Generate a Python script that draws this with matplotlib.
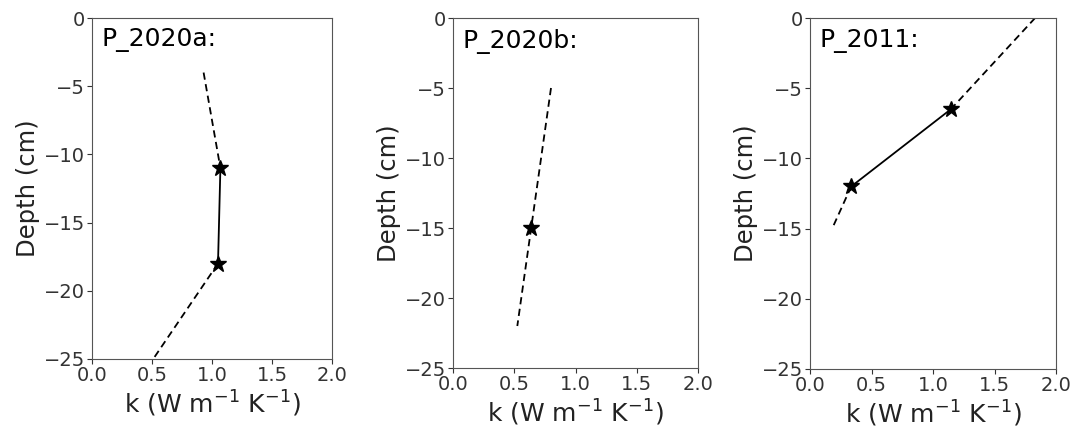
import matplotlib.pyplot as plt

# ---- data ----
TITLES = ["P_2020a:", "P_2020b:", "P_2011:"]

# P_2020a
a_k_top,  a_d_top  = [0.93, 1.07], [-4.0, -11.0]
a_k_mid,  a_d_mid  = [1.07, 1.05], [-11.0, -18.0]
a_k_bot,  a_d_bot  = [1.05, 0.51], [-18.0, -25.0]
a_k_star, a_d_star = [1.07, 1.05], [-11.0, -18.0]

# P_2020b
b_k_line, b_d_line = [0.80, 0.525], [-5.0, -22.0]
b_k_star, b_d_star = [0.635], [-15.0]

# P_2011
c_k_top,  c_d_top  = [1.83, 1.145], [0.0, -6.5]
c_k_mid,  c_d_mid  = [1.145, 0.335], [-6.5, -12.0]
c_k_bot,  c_d_bot  = [0.335, 0.18], [-12.0, -15.0]
c_k_star, c_d_star = [1.145, 0.335], [-6.5, -12.0]

XTICKS = [0.0, 0.5, 1.0, 1.5, 2.0]
YTICKS = [0, -5, -10, -15, -20, -25]

plt.rcParams['font.family'] = 'DejaVu Sans'

fig = plt.figure(figsize=(10.85, 4.3), dpi=100)
W, H = 1085.0, 430.0
# axes boxes in pixels: left, right, top, bottom
boxes = [(92, 332, 18, 359), (453, 698, 18, 368), (810, 1056, 18, 369)]
axes = [fig.add_axes([l / W, 1 - b / H, (r - l) / W, (b - t) / H]) for l, r, t, b in boxes]

dash = dict(color="black", lw=1.3, ls=(0, (4, 2.5)))
solid = dict(color="black", lw=1.3, ls="-")
star = dict(color="black", marker="*", ms=12, ls="none")

ax = axes[0]
ax.plot(a_k_top, a_d_top, **dash)
ax.plot(a_k_mid, a_d_mid, **solid)
ax.plot(a_k_bot, a_d_bot, **dash)
ax.plot(a_k_star, a_d_star, **star)

ax = axes[1]
ax.plot(b_k_line, b_d_line, **dash)
ax.plot(b_k_star, b_d_star, **star)

ax = axes[2]
ax.plot(c_k_top, c_d_top, **dash)
ax.plot(c_k_mid, c_d_mid, **solid)
ax.plot(c_k_bot, c_d_bot, **dash)
ax.plot(c_k_star, c_d_star, **star)

for ax, title in zip(axes, TITLES):
    ax.set_xlim(0, 2)
    ax.set_ylim(-25, 0)
    ax.set_xticks(XTICKS)
    ax.set_yticks(YTICKS)
    ax.set_xticklabels([f"{v:.1f}" for v in XTICKS])
    ax.set_yticklabels([str(v).replace("-", "\u2212") for v in YTICKS])
    ax.tick_params(labelsize=14, colors="#333333", length=3.5, pad=1.5)
    for sp in ax.spines.values():
        sp.set_color("#555555")
    ax.set_xlabel(r"k (W m$^{-1}$ K$^{-1}$)", fontsize=18, color="#222222", labelpad=3)
    ax.set_ylabel("Depth (cm)", fontsize=17.5, color="#222222", labelpad=3)
    ax.text(0.04, 0.97, title, transform=ax.transAxes, fontsize=18,
            va="top", ha="left", color="black")

fig.savefig("out.png", dpi=100)
